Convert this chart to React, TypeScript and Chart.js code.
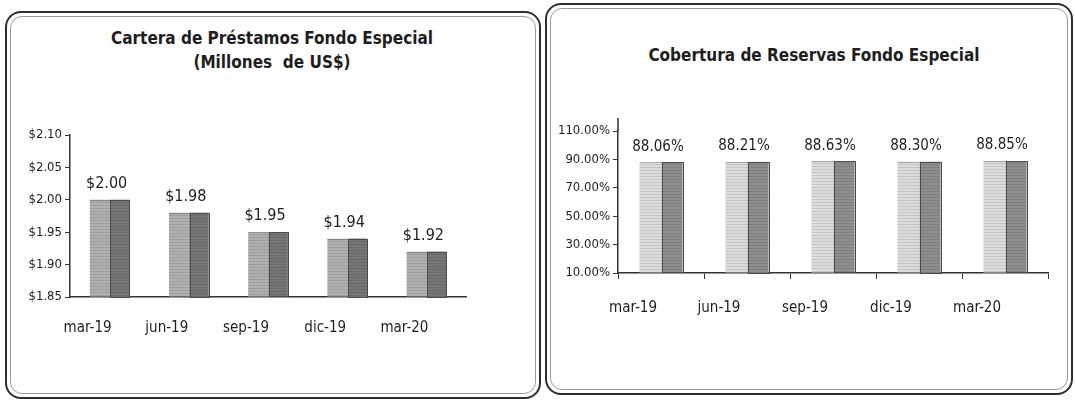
import React, { useEffect, useRef } from "react";
import { Chart, registerables } from "chart.js";

Chart.register(...registerables);

const categories = ["mar-19", "jun-19", "sep-19", "dic-19", "mar-20"];
const carteraValues = [2.0, 1.98, 1.95, 1.94, 1.92];
const carteraTicks = { min: 1.85, max: 2.1, step: 0.05 };
const coberturaValues = [88.06, 88.21, 88.63, 88.3, 88.85];
const coberturaTicks = { min: 10, max: 110, step: 20 };

const FONT = "'Liberation Sans Narrow', 'Arial Narrow', 'DejaVu Sans Condensed', 'Liberation Sans', sans-serif";
const INK = "#1e1e1e";

const bar3d = {
  id: "bar3d",
  afterDatasetsDraw(chart: any, _args: any, opts: any) {
    const ctx = chart.ctx;
    const meta = chart.getDatasetMeta(0);
    const ds = chart.data.datasets[0];
    ctx.save();
    meta.data.forEach((bar: any, i: number) => {
      const p = bar.getProps(["x", "y", "base", "width"], true);
      const left = p.x - p.width / 2;
      const right = p.x + p.width / 2;
      const mid = left + p.width * opts.split;
      const top = p.y;
      const bottom = p.base;
      ctx.fillStyle = opts.side;
      ctx.fillRect(mid, top, right - mid, bottom - top);
      ctx.strokeStyle = "rgba(0,0,0,0.10)";
      ctx.lineWidth = 1;
      for (let yy = top + 2; yy < bottom; yy += 3) {
        ctx.beginPath();
        ctx.moveTo(left, Math.round(yy) + 0.5);
        ctx.lineTo(right, Math.round(yy) + 0.5);
        ctx.stroke();
      }
      ctx.strokeStyle = opts.edge;
      ctx.lineWidth = 1;
      ctx.strokeRect(Math.round(mid) + 0.5, Math.round(top) + 0.5, Math.round(right - mid), Math.round(bottom - top));
      ctx.strokeStyle = "rgba(0,0,0,0.25)";
      ctx.beginPath();
      ctx.moveTo(left, Math.round(top) + 0.5);
      ctx.lineTo(mid, Math.round(top) + 0.5);
      ctx.stroke();
      ctx.fillStyle = INK;
      ctx.font = `${opts.labelSize}px ${FONT}`;
      ctx.textAlign = "center";
      ctx.textBaseline = "bottom";
      ctx.fillText(opts.format(ds.data[i]), p.x - opts.labelShift, top - opts.labelGap);
    });
    if (opts.axisExtend > 0) {
      const a = chart.chartArea;
      ctx.strokeStyle = "#333";
      ctx.lineWidth = 1.5;
      ctx.beginPath();
      ctx.moveTo(a.left, a.top - opts.axisExtend);
      ctx.lineTo(a.left, a.top);
      ctx.stroke();
    }
    ctx.restore();
  },
};

function BarChart(props: {
  left: number; top: number; width: number; height: number;
  values: number[]; ticks: { min: number; max: number; step: number };
  tickFmt: (v: number) => string; valFmt: (v: number) => string;
  yWidth: number; xHeight: number; padRight: number; padTop: number;
  front: string; side: string; labelOffset: number; xPad: number; xTicks: boolean;
  labelSize: number; axisExtend: number;
}) {
  const ref = useRef<HTMLCanvasElement | null>(null);
  useEffect(() => {
    if (!ref.current) return;
    const chart = new Chart(ref.current, {
      type: "bar",
      data: {
        labels: categories,
        datasets: [{
          data: props.values,
          backgroundColor: props.front,
          borderWidth: 0,
          barPercentage: 0.5,
          categoryPercentage: 1,
          base: props.ticks.min,
        }],
      },
      options: {
        responsive: false,
        animation: false,
        layout: { padding: { top: props.padTop, left: 0, right: props.padRight, bottom: 0 } },
        plugins: {
          legend: { display: false },
          tooltip: { enabled: false },
          title: { display: false },
          bar3d: {
            split: 0.52, side: props.side, edge: "#4a4a4a",
            labelSize: props.labelSize, labelGap: 8, labelShift: 3, format: props.valFmt,
            axisExtend: props.axisExtend,
          },
        } as any,
        scales: {
          x: {
            grid: { display: props.xTicks, drawOnChartArea: false, tickLength: 6, color: "#333", offset: true },
            border: { display: true, color: "#333", width: 1.5 },
            ticks: { color: INK, font: { family: FONT, size: 15 }, padding: props.xPad, labelOffset: props.labelOffset, maxRotation: 0 },
            afterFit: (s: any) => { s.height = props.xHeight; },
          },
          y: {
            min: props.ticks.min,
            max: props.ticks.max,
            grid: { display: true, drawOnChartArea: false, tickLength: 5, color: "#333" },
            border: { display: true, color: "#333", width: 1.5 },
            ticks: { stepSize: props.ticks.step, color: INK, font: { family: FONT, size: 13 }, padding: 3, callback: (v: any) => props.tickFmt(Number(v)) },
            afterFit: (s: any) => { s.width = props.yWidth; },
          },
        },
      },
      plugins: [bar3d],
    });
    return () => chart.destroy();
  }, []);
  return (
    <canvas
      ref={ref}
      width={props.width}
      height={props.height}
      style={{ position: "absolute", left: props.left, top: props.top, width: props.width, height: props.height }}
    />
  );
}

function Panel(p: { left: number; top: number; width: number; height: number }) {
  return (
    <div style={{ position: "absolute", left: p.left, top: p.top, width: p.width, height: p.height, boxSizing: "border-box", border: "2px solid #2e2e2e", borderRadius: 16, padding: 3 }}>
      <div style={{ width: "100%", height: "100%", boxSizing: "border-box", border: "1.5px solid #9a9a9a", borderRadius: 12 }} />
    </div>
  );
}

function Title(p: { cx: number; top: number; lines: string[] }) {
  return (
    <div style={{ position: "absolute", left: p.cx - 250, top: p.top, width: 500, textAlign: "center", fontFamily: FONT, fontWeight: "bold", fontSize: 17, lineHeight: "24px", color: INK, whiteSpace: "pre" }}>
      {p.lines.map((l, i) => <div key={i}>{l}</div>)}
    </div>
  );
}

export default function App() {
  return (
    <div style={{ position: "absolute", left: 0, top: 0, width: 1075, height: 404, background: "#fff", overflow: "hidden" }}>
      <Panel left={5} top={11} width={536} height={388} />
      <Panel left={545} top={3} width={528} height={392} />
      <Title cx={272} top={26} lines={["Cartera de Préstamos Fondo Especial", "(Millones  de US$)"]} />
      <Title cx={814} top={43} lines={["Cobertura de Reservas Fondo Especial"]} />
      <BarChart
        left={14} top={18} width={520} height={372}
        values={carteraValues} ticks={carteraTicks}
        tickFmt={(v) => "$" + v.toFixed(2)} valFmt={(v) => "$" + v.toFixed(2)}
        yWidth={56} xHeight={93} padRight={68} padTop={117}
        front="#b0b0b0" side="#767676" labelOffset={-22} xPad={16} xTicks={false}
        labelSize={16} axisExtend={0}
      />
      <BarChart
        left={551} top={10} width={516} height={380}
        values={coberturaValues} ticks={coberturaTicks}
        tickFmt={(v) => v.toFixed(2) + "%"} valFmt={(v) => v.toFixed(2) + "%"}
        yWidth={67} xHeight={117} padRight={19} padTop={121}
        front="#dcdcdc" side="#8e8e8e" labelOffset={-28} xPad={20} xTicks={true}
        labelSize={15} axisExtend={13}
      />
    </div>
  );
}
